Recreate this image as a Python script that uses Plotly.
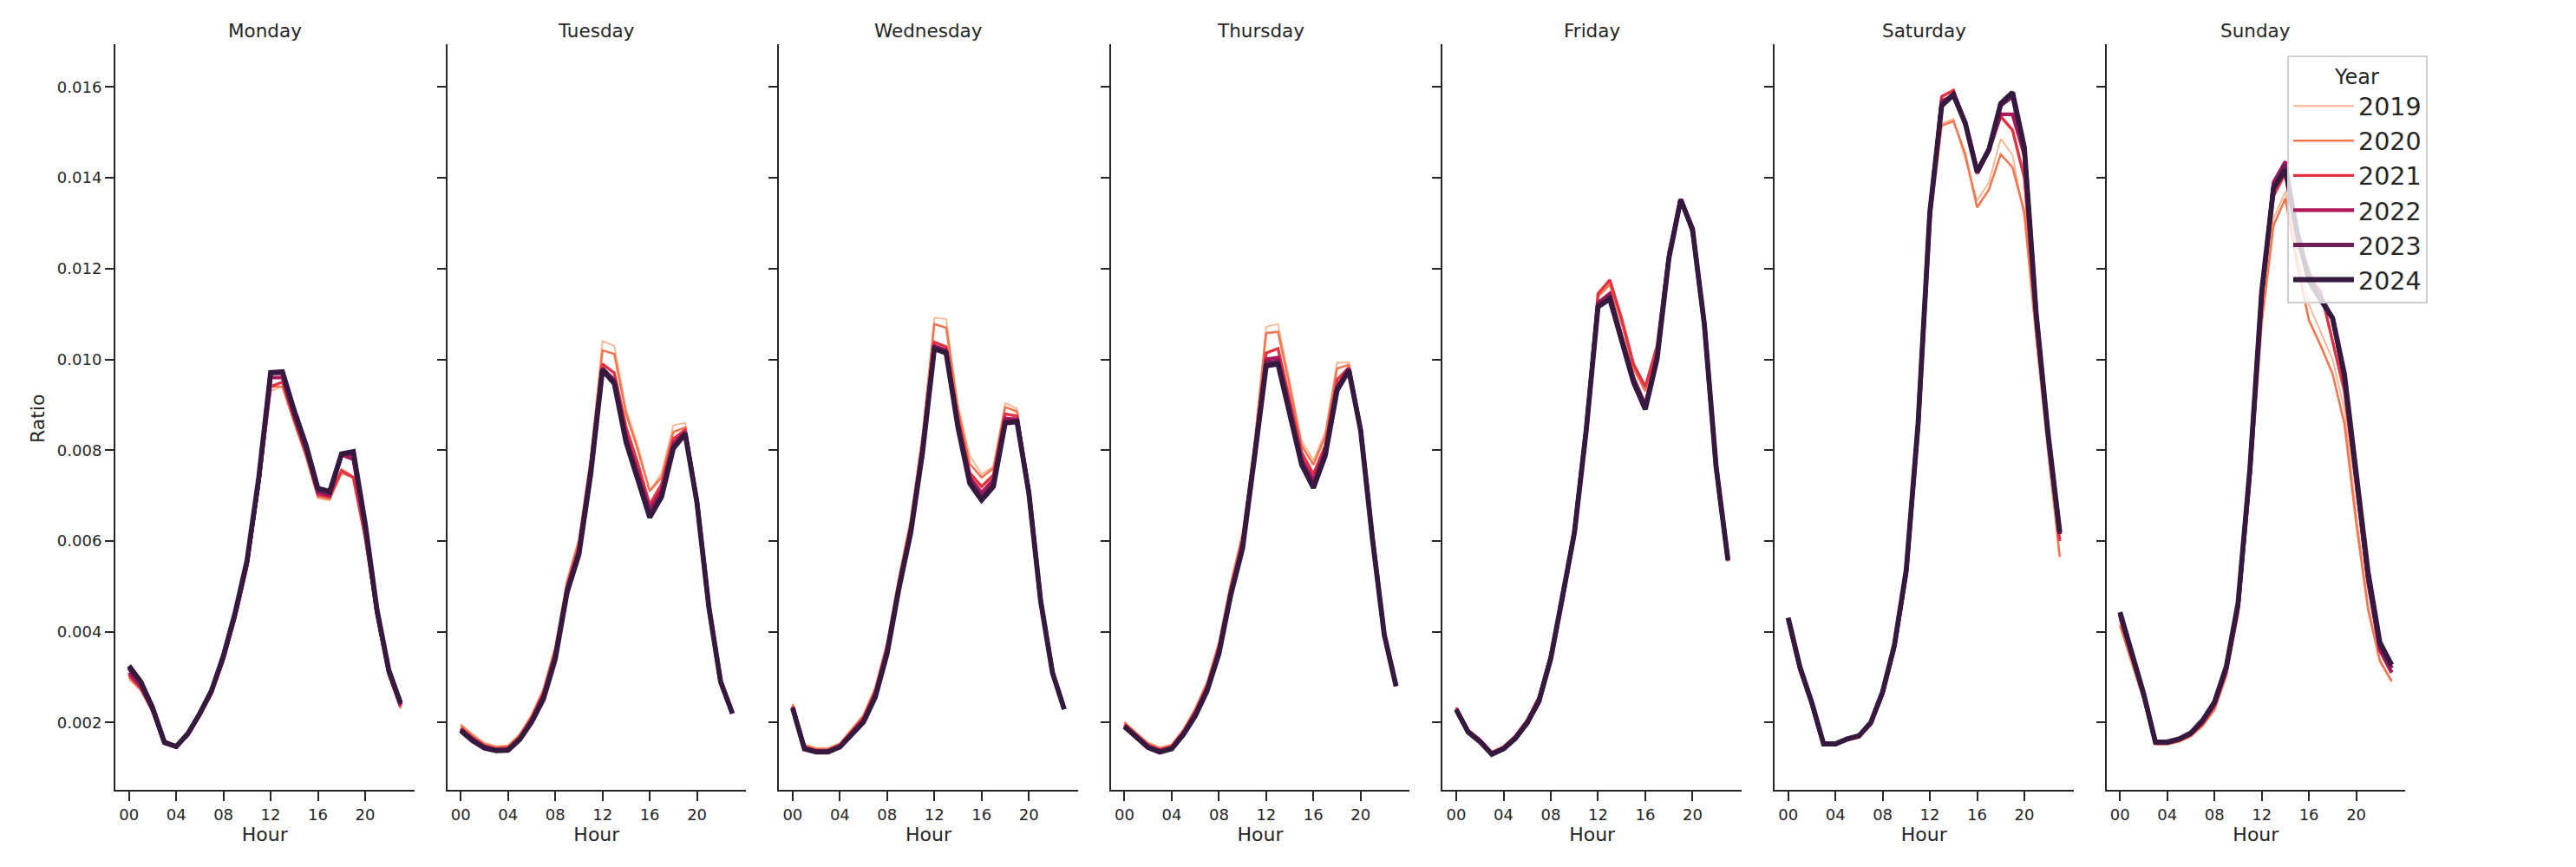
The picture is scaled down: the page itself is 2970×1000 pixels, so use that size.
import plotly.graph_objects as go

# ---------------- data ----------------
HOURS = list(range(24))
HOUR_TICKS = [0, 4, 8, 12, 16, 20]
HOUR_TICK_LABELS = ["00", "04", "08", "12", "16", "20"]
RATIO_TICKS = [0.002, 0.004, 0.006, 0.008, 0.010, 0.012, 0.014, 0.016]
RATIO_TICK_LABELS = ["0.002", "0.004", "0.006", "0.008", "0.010", "0.012", "0.014", "0.016"]
DAYS = ["Monday", "Tuesday", "Wednesday", "Thursday", "Friday", "Saturday", "Sunday"]
YEARS = ["2019", "2020", "2021", "2022", "2023", "2024"]

MON_2019 = [0.00295, 0.0027, 0.00222, 0.00152, 0.00145, 0.00171, 0.00213, 0.0026, 0.00333, 0.00425, 0.00538, 0.00715, 0.0093, 0.0094, 0.00858, 0.00783, 0.00693, 0.0069, 0.0076, 0.00742, 0.006, 0.00432, 0.00302, 0.0023]
MON_2020 = [0.003, 0.00273, 0.00224, 0.00153, 0.00145, 0.00172, 0.00214, 0.00262, 0.00335, 0.00428, 0.0054, 0.0072, 0.0094, 0.0094, 0.00862, 0.00787, 0.00698, 0.00692, 0.0075, 0.0074, 0.00605, 0.00435, 0.00305, 0.00232]
MON_2021 = [0.00305, 0.00276, 0.00226, 0.00154, 0.00146, 0.00173, 0.00216, 0.00265, 0.00338, 0.00432, 0.00545, 0.00725, 0.0094, 0.0095, 0.00868, 0.00792, 0.00702, 0.00697, 0.00755, 0.0074, 0.0061, 0.00438, 0.00307, 0.00235]
MON_2022 = [0.0031, 0.0028, 0.00228, 0.00155, 0.00146, 0.00174, 0.00218, 0.00268, 0.00342, 0.00437, 0.0055, 0.00732, 0.0096, 0.0096, 0.00875, 0.008, 0.00707, 0.007, 0.0079, 0.0078, 0.00625, 0.0044, 0.0031, 0.00238]
MON_2023 = [0.0032, 0.00287, 0.0023, 0.00156, 0.00147, 0.00175, 0.00219, 0.0027, 0.00345, 0.0044, 0.00553, 0.00737, 0.0097, 0.0097, 0.00882, 0.00805, 0.00712, 0.00705, 0.0079, 0.00792, 0.00632, 0.00445, 0.00313, 0.0024]
MON_2024 = [0.00325, 0.0029, 0.00233, 0.00157, 0.00147, 0.00176, 0.0022, 0.00271, 0.00347, 0.00443, 0.00557, 0.00741, 0.00971, 0.00973, 0.00887, 0.00811, 0.00716, 0.00709, 0.00792, 0.00797, 0.00639, 0.00449, 0.00316, 0.00243]

TUE_2019 = [0.00196, 0.00174, 0.00155, 0.00148, 0.0015, 0.00175, 0.00217, 0.00275, 0.00368, 0.00515, 0.00605, 0.00785, 0.0104, 0.0103, 0.0089, 0.0081, 0.0071, 0.0075, 0.00855, 0.0086, 0.00697, 0.00463, 0.00296, 0.00224]
TUE_2020 = [0.00194, 0.00172, 0.00153, 0.00146, 0.00148, 0.00173, 0.00215, 0.00272, 0.00365, 0.0051, 0.006, 0.0078, 0.0102, 0.01012, 0.0088, 0.008, 0.0071, 0.0074, 0.0084, 0.0085, 0.00695, 0.00462, 0.00295, 0.00223]
TUE_2021 = [0.00188, 0.00166, 0.00149, 0.00142, 0.00144, 0.00168, 0.0021, 0.00265, 0.00355, 0.005, 0.00587, 0.0077, 0.0099, 0.0097, 0.0085, 0.0077, 0.0068, 0.00725, 0.00825, 0.00845, 0.00692, 0.0046, 0.00293, 0.00222]
TUE_2022 = [0.00186, 0.00164, 0.00147, 0.0014, 0.00142, 0.00166, 0.00206, 0.0026, 0.0035, 0.00495, 0.0058, 0.0076, 0.0098, 0.00955, 0.0083, 0.0075, 0.0067, 0.00712, 0.00815, 0.0084, 0.0069, 0.00458, 0.00292, 0.00221]
TUE_2023 = [0.00184, 0.00162, 0.00145, 0.00139, 0.0014, 0.00164, 0.00203, 0.00255, 0.00345, 0.0049, 0.00575, 0.00755, 0.0098, 0.0095, 0.0082, 0.0074, 0.0066, 0.007, 0.00808, 0.00838, 0.00686, 0.00456, 0.00291, 0.0022]
TUE_2024 = [0.00182, 0.0016, 0.00144, 0.00138, 0.00139, 0.00163, 0.00201, 0.00252, 0.0034, 0.00487, 0.0057, 0.00747, 0.00977, 0.00947, 0.00817, 0.00735, 0.00652, 0.00697, 0.00804, 0.00836, 0.00684, 0.00455, 0.0029, 0.0022]

WED_2019 = [0.00242, 0.00152, 0.00144, 0.00144, 0.00155, 0.00186, 0.00218, 0.00278, 0.00378, 0.00522, 0.0065, 0.00835, 0.01092, 0.01089, 0.009, 0.00788, 0.00747, 0.00764, 0.00904, 0.00892, 0.00718, 0.00474, 0.00315, 0.00232]
WED_2020 = [0.0024, 0.0015, 0.00142, 0.00142, 0.00153, 0.00184, 0.00215, 0.00275, 0.00375, 0.00518, 0.00645, 0.0083, 0.01078, 0.0107, 0.0089, 0.0077, 0.0074, 0.0076, 0.00895, 0.00885, 0.00716, 0.00473, 0.00314, 0.00232]
WED_2021 = [0.00236, 0.00146, 0.00139, 0.00139, 0.0015, 0.0018, 0.0021, 0.00268, 0.00366, 0.00508, 0.00632, 0.00812, 0.01038, 0.01028, 0.0087, 0.0075, 0.0072, 0.00745, 0.0088, 0.00875, 0.00713, 0.00472, 0.00313, 0.00231]
WED_2022 = [0.00234, 0.00144, 0.00137, 0.00137, 0.00148, 0.00177, 0.00206, 0.00262, 0.0036, 0.00502, 0.00626, 0.00805, 0.0103, 0.0102, 0.0086, 0.0074, 0.00706, 0.00735, 0.0087, 0.00868, 0.0071, 0.0047, 0.00312, 0.0023]
WED_2023 = [0.00233, 0.00143, 0.00136, 0.00136, 0.00147, 0.00175, 0.00203, 0.00258, 0.00355, 0.00498, 0.00622, 0.008, 0.01026, 0.01016, 0.00855, 0.00732, 0.00695, 0.00724, 0.00863, 0.00865, 0.00708, 0.00469, 0.00311, 0.0023]
WED_2024 = [0.00232, 0.00142, 0.00135, 0.00135, 0.00146, 0.00174, 0.00201, 0.00256, 0.00352, 0.00495, 0.00618, 0.00795, 0.01024, 0.01014, 0.0085, 0.00727, 0.0069, 0.0072, 0.0086, 0.00863, 0.00706, 0.00468, 0.0031, 0.00229]

THU_2019 = [0.00202, 0.00178, 0.00156, 0.00145, 0.00152, 0.00186, 0.00232, 0.0029, 0.00378, 0.00508, 0.00618, 0.00815, 0.01072, 0.01078, 0.0095, 0.0082, 0.00778, 0.0084, 0.00993, 0.00993, 0.00852, 0.00609, 0.00396, 0.00282]
THU_2020 = [0.002, 0.00176, 0.00154, 0.00143, 0.0015, 0.00184, 0.0023, 0.00288, 0.00375, 0.00505, 0.00615, 0.0081, 0.01058, 0.01061, 0.0094, 0.0081, 0.00768, 0.0083, 0.0098, 0.00988, 0.0085, 0.00608, 0.00396, 0.00282]
THU_2021 = [0.00196, 0.00172, 0.0015, 0.0014, 0.00147, 0.0018, 0.00224, 0.0028, 0.00366, 0.00494, 0.006, 0.00798, 0.01014, 0.01024, 0.0091, 0.00795, 0.00747, 0.0081, 0.00955, 0.00982, 0.00848, 0.00607, 0.00395, 0.00281]
THU_2022 = [0.00194, 0.0017, 0.00148, 0.00138, 0.00145, 0.00177, 0.0022, 0.00276, 0.0036, 0.00488, 0.00593, 0.0079, 0.01, 0.01004, 0.0089, 0.0078, 0.00734, 0.008, 0.0094, 0.0098, 0.00846, 0.00606, 0.00394, 0.00281]
THU_2023 = [0.00192, 0.00168, 0.00146, 0.00136, 0.00143, 0.00175, 0.00217, 0.00272, 0.00355, 0.00484, 0.00588, 0.00786, 0.00992, 0.00995, 0.0088, 0.00773, 0.00722, 0.00792, 0.00936, 0.00978, 0.00845, 0.00605, 0.00394, 0.0028]
THU_2024 = [0.00191, 0.00167, 0.00145, 0.00135, 0.00142, 0.00174, 0.00215, 0.0027, 0.00352, 0.00481, 0.00584, 0.00782, 0.00986, 0.0099, 0.00877, 0.00768, 0.00717, 0.00788, 0.00932, 0.00976, 0.00843, 0.00604, 0.00393, 0.0028]

FRI_2019 = [0.00234, 0.00185, 0.00164, 0.00136, 0.00148, 0.00172, 0.00207, 0.00258, 0.00349, 0.00479, 0.00621, 0.00846, 0.0114, 0.0117, 0.01085, 0.00985, 0.00935, 0.01025, 0.01235, 0.0135, 0.01276, 0.01073, 0.00759, 0.00556]
FRI_2020 = [0.00233, 0.00184, 0.00163, 0.00135, 0.00147, 0.00171, 0.00206, 0.00257, 0.00348, 0.00478, 0.0062, 0.00845, 0.01138, 0.01165, 0.0108, 0.0098, 0.0093, 0.0102, 0.01232, 0.01348, 0.01275, 0.01072, 0.00758, 0.00555]
FRI_2021 = [0.00232, 0.00183, 0.00162, 0.00134, 0.00146, 0.0017, 0.00205, 0.00256, 0.0035, 0.00482, 0.00625, 0.0085, 0.01145, 0.01175, 0.0109, 0.0099, 0.0094, 0.0103, 0.01238, 0.01352, 0.01278, 0.01074, 0.0076, 0.00556]
FRI_2022 = [0.0023, 0.00181, 0.0016, 0.00132, 0.00144, 0.00168, 0.00202, 0.00252, 0.00346, 0.00478, 0.00622, 0.00848, 0.01125, 0.01145, 0.0105, 0.0096, 0.009, 0.0101, 0.01228, 0.01353, 0.01282, 0.01076, 0.00761, 0.00557]
FRI_2023 = [0.00229, 0.0018, 0.00159, 0.00131, 0.00143, 0.00166, 0.002, 0.00249, 0.00343, 0.00475, 0.0062, 0.00846, 0.0112, 0.01138, 0.01045, 0.00955, 0.00895, 0.01005, 0.01225, 0.01352, 0.01285, 0.01077, 0.00762, 0.00558]
FRI_2024 = [0.00228, 0.00179, 0.00158, 0.0013, 0.00142, 0.00165, 0.00199, 0.00247, 0.00341, 0.00473, 0.00618, 0.00844, 0.01116, 0.01133, 0.0104, 0.0095, 0.0089, 0.01001, 0.01223, 0.01352, 0.01287, 0.01078, 0.00763, 0.00558]

SAT_2019 = [0.00422, 0.00313, 0.00239, 0.0015, 0.0015, 0.00161, 0.00168, 0.00196, 0.0026, 0.0036, 0.0052, 0.0084, 0.0131, 0.0152, 0.0153, 0.0144, 0.0135, 0.0139, 0.01486, 0.0145, 0.0131, 0.0105, 0.0082, 0.006]
SAT_2020 = [0.0042, 0.00312, 0.00238, 0.0015, 0.0015, 0.0016, 0.00167, 0.00195, 0.00258, 0.00358, 0.00518, 0.00835, 0.013, 0.01515, 0.01525, 0.01452, 0.01335, 0.01374, 0.01452, 0.01423, 0.01325, 0.0105, 0.008, 0.00565]
SAT_2021 = [0.00425, 0.00315, 0.0024, 0.00151, 0.00151, 0.00162, 0.00169, 0.00197, 0.00262, 0.00363, 0.00525, 0.00845, 0.0132, 0.01579, 0.01593, 0.0152, 0.0141, 0.0146, 0.01535, 0.01505, 0.014, 0.0108, 0.0083, 0.006]
SAT_2022 = [0.00428, 0.00318, 0.00242, 0.00152, 0.00152, 0.00163, 0.0017, 0.00199, 0.00265, 0.00367, 0.0053, 0.0085, 0.0132, 0.0157, 0.0158, 0.0152, 0.0141, 0.0146, 0.0154, 0.0154, 0.0145, 0.011, 0.0084, 0.0062]
SAT_2023 = [0.0043, 0.0032, 0.00243, 0.00153, 0.00153, 0.00164, 0.00171, 0.002, 0.00267, 0.0037, 0.00534, 0.00855, 0.01323, 0.01562, 0.01585, 0.01522, 0.01415, 0.01464, 0.0156, 0.0158, 0.0146, 0.011, 0.00836, 0.00615]
SAT_2024 = [0.00431, 0.00322, 0.00244, 0.00153, 0.00153, 0.00164, 0.00171, 0.002, 0.00268, 0.00371, 0.00536, 0.00858, 0.01325, 0.01559, 0.01583, 0.0152, 0.01413, 0.01462, 0.01564, 0.01588, 0.01467, 0.01101, 0.00838, 0.00619]

SUN_2019 = [0.00418, 0.00336, 0.00252, 0.00153, 0.00153, 0.00159, 0.00171, 0.00195, 0.0023, 0.00306, 0.00442, 0.00725, 0.0109, 0.0131, 0.0137, 0.0123, 0.0112, 0.0106, 0.01, 0.0089, 0.0066, 0.0046, 0.0034, 0.0029]
SUN_2020 = [0.00414, 0.00333, 0.0025, 0.00152, 0.00152, 0.00158, 0.0017, 0.00193, 0.00228, 0.00303, 0.00438, 0.0072, 0.0108, 0.01295, 0.01355, 0.0121, 0.01086, 0.0103, 0.00968, 0.00859, 0.0064, 0.0045, 0.00336, 0.00291]
SUN_2021 = [0.0043, 0.00344, 0.00257, 0.00154, 0.00154, 0.00161, 0.00173, 0.00198, 0.00236, 0.00312, 0.00448, 0.0074, 0.0113, 0.0136, 0.0141, 0.0126, 0.0118, 0.0115, 0.0104, 0.0093, 0.0072, 0.0051, 0.0036, 0.0031]
SUN_2022 = [0.00435, 0.00348, 0.0026, 0.00155, 0.00155, 0.00162, 0.00175, 0.00201, 0.0024, 0.00317, 0.00455, 0.0075, 0.0114, 0.0139, 0.01436, 0.0127, 0.0119, 0.0114, 0.0109, 0.0096, 0.0073, 0.0051, 0.0036, 0.0031]
SUN_2023 = [0.0044, 0.00352, 0.00262, 0.00156, 0.00156, 0.00163, 0.00176, 0.00203, 0.00243, 0.0032, 0.0046, 0.00755, 0.01145, 0.0138, 0.0143, 0.0128, 0.0117, 0.0113, 0.0109, 0.0096, 0.0074, 0.0052, 0.0037, 0.0032]
SUN_2024 = [0.00443, 0.00355, 0.00264, 0.00157, 0.00157, 0.00164, 0.00177, 0.00205, 0.00245, 0.00323, 0.00464, 0.00759, 0.0115, 0.01377, 0.01418, 0.0128, 0.01177, 0.01132, 0.01091, 0.00968, 0.0075, 0.00532, 0.00377, 0.00327]

SERIES = {
    "Monday": [MON_2019, MON_2020, MON_2021, MON_2022, MON_2023, MON_2024],
    "Tuesday": [TUE_2019, TUE_2020, TUE_2021, TUE_2022, TUE_2023, TUE_2024],
    "Wednesday": [WED_2019, WED_2020, WED_2021, WED_2022, WED_2023, WED_2024],
    "Thursday": [THU_2019, THU_2020, THU_2021, THU_2022, THU_2023, THU_2024],
    "Friday": [FRI_2019, FRI_2020, FRI_2021, FRI_2022, FRI_2023, FRI_2024],
    "Saturday": [SAT_2019, SAT_2020, SAT_2021, SAT_2022, SAT_2023, SAT_2024],
    "Sunday": [SUN_2019, SUN_2020, SUN_2021, SUN_2022, SUN_2023, SUN_2024],
}

# ---------------- styles ----------------
COLORS = ["#f6b48f", "#f37651", "#e13342", "#ad1759", "#701f57", "#35193e"]
WIDTHS = [1.8, 2.6, 3.4, 4.2, 5.0, 5.8]
INK = "#262626"
FONT = "DejaVu Sans"

# page body has an 8px margin; work in page coordinates and shift
OFF = 8
W, H = 2970 - OFF, 1000 - OFF
PANEL_LEFT0 = 133
PANEL_STEP = 382.6
PANEL_W = 344.5
Y_TOP = 51
Y_BOT = 911


def px(xp):
    return (xp - OFF) / W


def py(yp):
    return 1 - (yp - OFF) / H


fig = go.Figure()

layout = dict(
    width=W, height=H,
    margin=dict(l=0, r=0, t=0, b=0),
    paper_bgcolor="white", plot_bgcolor="white",
    font=dict(family=FONT, color=INK, size=18),
    showlegend=True,
    annotations=[],
)

for i, day in enumerate(DAYS):
    n = "" if i == 0 else str(i + 1)
    left = PANEL_LEFT0 + PANEL_STEP * i
    x0, x1 = px(left), px(left + PANEL_W)
    layout["xaxis" + n] = dict(
        domain=[x0, x1], anchor="y" + n,
        range=[-1.15, 24.15],
        tickvals=HOUR_TICKS, ticktext=HOUR_TICK_LABELS,
        ticks="outside", ticklen=11, tickwidth=2, tickcolor=INK,
        showline=True, linecolor=INK, linewidth=2,
        showgrid=False, zeroline=False,
        tickfont=dict(size=18, color=INK, family=FONT),
        title=dict(text="Hour", font=dict(size=22, color=INK, family=FONT), standoff=1),
    )
    layout["yaxis" + n] = dict(
        domain=[py(Y_BOT), py(Y_TOP)], anchor="x" + n,
        range=[0.000518, 0.016944],
        tickvals=RATIO_TICKS, ticktext=RATIO_TICK_LABELS,
        showticklabels=(i == 0),
        ticks="outside", ticklen=10, tickwidth=2, tickcolor=INK,
        showline=True, linecolor=INK, linewidth=2,
        showgrid=False, zeroline=False,
        tickfont=dict(size=18, color=INK, family=FONT),
    )
    layout["annotations"].append(dict(
        text=day, x=(x0 + x1) / 2, y=py(35), xref="paper", yref="paper",
        xanchor="center", yanchor="middle", showarrow=False,
        font=dict(size=21.5, color=INK, family=FONT),
    ))
    for k, year in enumerate(YEARS):
        fig.add_trace(go.Scatter(
            x=HOURS, y=SERIES[day][k], mode="lines",
            name=year, legendgroup=year, showlegend=(i == 0),
            line=dict(color=COLORS[k], width=WIDTHS[k]),
            xaxis="x" + n, yaxis="y" + n,
        ))

layout["annotations"].append(dict(
    text="Ratio", x=px(44), y=py(483), xref="paper", yref="paper",
    xanchor="center", yanchor="middle", showarrow=False, textangle=-90,
    font=dict(size=22, color=INK, family=FONT),
))

layout["legend"] = dict(
    x=px(2637), y=py(64), xanchor="left", yanchor="top",
    bgcolor="rgba(255,255,255,0.8)", bordercolor="#d0d0d0", borderwidth=2,
    font=dict(size=28.5, color=INK, family=FONT),
    title=dict(text="Year", side="top center", font=dict(size=24, color=INK, family=FONT)),
    tracegroupgap=0, itemwidth=70,
)

fig.update_layout(**layout)
fig.write_html("out.html")
